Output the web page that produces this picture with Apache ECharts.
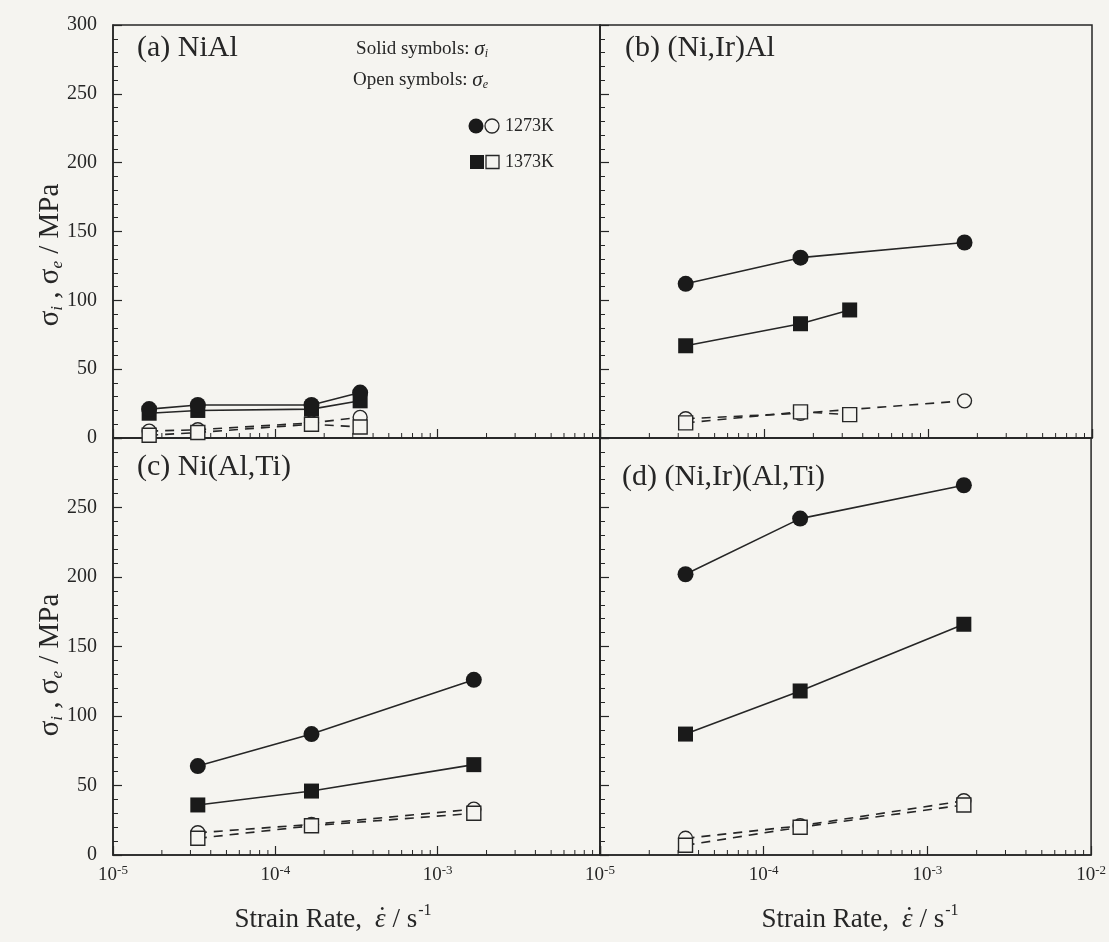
<!DOCTYPE html>
<html><head><meta charset="utf-8">
<script src="https://cdn.jsdelivr.net/npm/echarts@6/dist/echarts.min.js"></script>
<style>html,body{margin:0;padding:0;background:#f5f4f0;} #c{width:1109px;height:942px;}</style>
</head><body><div id="c"></div>
<script>
// ---- data (strain rate in s^-1, stress in MPa) ----
const ratesA = [1.67e-5, 3.33e-5, 1.67e-4, 3.33e-4];
const ratesMain = [3.33e-5, 1.67e-4, 1.67e-3];
const ratesB1373 = [3.33e-5, 1.67e-4, 3.33e-4];

const a1273Solid = [21, 24, 24, 33];
const a1373Solid = [18, 20, 21, 27];
const a1273Open  = [5, 6, 11, 15];
const a1373Open  = [2, 4, 10, 8];

const b1273Solid = [112, 131, 142];
const b1373Solid = [67, 83, 93];
const b1273Open  = [14, 18, 27];
const b1373Open  = [11, 19, 17];

const c1273Solid = [64, 87, 126];
const c1373Solid = [36, 46, 65];
const c1273Open  = [16, 22, 33];
const c1373Open  = [12, 21, 30];

const d1273Solid = [202, 242, 266];
const d1373Solid = [87, 118, 166];
const d1273Open  = [12, 21, 39];
const d1373Open  = [7, 20, 36];

const panelTitles = ['(a) NiAl', '(b) (Ni,Ir)Al', '(c) Ni(Al,Ti)', '(d) (Ni,Ir)(Al,Ti)'];
const yTickStep = 50;
const xDecades = [-5, -4, -3];
const minorMultipliers = [2, 3, 4, 5, 6, 7, 8, 9];

// ---- styling ----
const FONT = '"Liberation Serif","DejaVu Serif",serif';
const INK = '#262626';
const BG = '#f5f4f0';

const grids = [
  {left: 113, top: 25, width: 487, height: 413},
  {left: 600, top: 25, width: 492, height: 413},
  {left: 113, top: 438, width: 487, height: 417},
  {left: 600, top: 438, width: 492, height: 417}
];

const panels = [
  {c1: [ratesA, a1273Solid], s1: [ratesA, a1373Solid], oc: [ratesA, a1273Open], os: [ratesA, a1373Open]},
  {c1: [ratesMain, b1273Solid], s1: [ratesB1373, b1373Solid], oc: [ratesMain, b1273Open], os: [ratesB1373, b1373Open]},
  {c1: [ratesMain, c1273Solid], s1: [ratesMain, c1373Solid], oc: [ratesMain, c1273Open], os: [ratesMain, c1373Open]},
  {c1: [ratesMain, d1273Solid], s1: [ratesMain, d1373Solid], oc: [ratesMain, d1273Open], os: [ratesMain, d1373Open]}
];

const zip = (xs, ys) => xs.map((x, i) => [x, ys[i]]);
const minorVals = [];
xDecades.forEach(k => minorMultipliers.forEach(m => minorVals.push([m * Math.pow(10, k)])));

const xAxes = [], yAxes = [], series = [];
grids.forEach((g, gi) => {
  const bottomRow = gi >= 2, leftCol = gi % 2 === 0;
  xAxes.push({
    type: 'log', logBase: 10, gridIndex: gi, min: 1e-5, max: 1e-2, interval: 1,
    axisLine: {show: true, lineStyle: {color: INK, width: 1.5}},
    axisTick: {show: true, inside: true, length: 9, lineStyle: {color: INK, width: 1.2}},
    splitLine: {show: false},
    axisLabel: {
      show: bottomRow, margin: 9,
      formatter: v => {
        const e = Math.round(Math.log10(v));
        if (leftCol && e === -2) return '';
        return '{b|10}{s|' + e + '}';
      },
      rich: {
        b: {fontFamily: FONT, fontSize: 19, color: INK, lineHeight: 22},
        s: {fontFamily: FONT, fontSize: 13, color: INK, verticalAlign: 'top', lineHeight: 13}
      }
    }
  });
  yAxes.push({
    type: 'value', gridIndex: gi, min: 0, max: 300, interval: yTickStep,
    axisLine: {show: true, lineStyle: {color: INK, width: 1.5}},
    axisTick: {show: true, inside: true, length: 9, lineStyle: {color: INK, width: 1.2}},
    minorTick: {show: true, splitNumber: 5, length: 5, lineStyle: {color: INK, width: 1}},
    splitLine: {show: false},
    axisLabel: {
      show: leftCol, margin: 16, fontFamily: FONT, fontSize: 20, color: INK,
      formatter: v => (bottomRow && v === 300) ? '' : String(v)
    }
  });
  const p = panels[gi];
  const solid = (d, sym, size, z) => ({
    type: 'line', xAxisIndex: gi, yAxisIndex: gi, data: zip(d[0], d[1]),
    symbol: sym, symbolSize: size, z: z, silent: true, animation: false,
    itemStyle: {color: '#1a1a1a', borderColor: '#1a1a1a', borderWidth: 0},
    lineStyle: {color: INK, width: 1.6}
  });
  const open = (d, sym, size, z) => ({
    type: 'line', xAxisIndex: gi, yAxisIndex: gi, data: zip(d[0], d[1]),
    symbol: sym, symbolSize: size, z: z, silent: true, animation: false,
    itemStyle: {color: BG, borderColor: INK, borderWidth: 1.4},
    lineStyle: {color: INK, width: 1.6, type: [9, 7]}
  });
  series.push(open(p.oc, 'circle', 14, 2));
  series.push(open(p.os, 'rect', 14, 3));
  series.push(solid(p.s1, 'rect', 15, 4));
  series.push(solid(p.c1, 'circle', 16, 5));
  series.push({
    type: 'custom', xAxisIndex: gi, yAxisIndex: gi, data: minorVals, silent: true, clip: false, z: 1, animation: false,
    renderItem: (params, api) => {
      const pt = api.coord([api.value(0), 0]);
      return {type: 'line', shape: {x1: pt[0], y1: pt[1], x2: pt[0], y2: pt[1] - 5}, style: {stroke: INK, lineWidth: 1}};
    }
  });
});

const titlePos = [[137, 48], [625, 48], [137, 467], [622, 477]];
const graphic = [];
panelTitles.forEach((t, i) => graphic.push({
  type: 'text', x: titlePos[i][0], y: titlePos[i][1], silent: true,
  style: {text: t, fontFamily: FONT, fontSize: 30, fill: INK, align: 'left', verticalAlign: 'middle'}
}));

// y axis titles
[255, 665].forEach(cy => graphic.push({
  type: 'text', x: 50, y: cy, rotation: Math.PI / 2, silent: true,
  style: {
    text: '{g|σ}{i|i}{g| , σ}{i|e}{g| / MPa}', align: 'center', verticalAlign: 'middle',
    rich: {
      g: {fontFamily: FONT, fontSize: 29, fill: INK, lineHeight: 32},
      i: {fontFamily: FONT, fontSize: 17, fontStyle: 'italic', fill: INK, verticalAlign: 'bottom', lineHeight: 16}
    }
  }
}));

// x axis titles, built from measured pieces so the dot sits over the epsilon
const mctx = document.createElement('canvas').getContext('2d');
const measure = (t, f) => { mctx.font = f; return mctx.measureText(t).width; };
const XT = 27;
const fN = XT + 'px "Liberation Serif"', fI = 'italic ' + XT + 'px "Liberation Serif"', fS = '16px "Liberation Serif"';
const pieces = [
  {t: 'Strain Rate,', f: fN, italic: false, size: XT, gapAfter: 13},
  {t: '\u03B5', f: fI, italic: true, size: XT, gapAfter: 0, dot: true},
  {t: ' / s', f: fN, italic: false, size: XT, gapAfter: 1},
  {t: '-1', f: fS, italic: false, size: 16, gapAfter: 0, sup: true}
];
const totalW = pieces.reduce((s, p) => s + measure(p.t, p.f) + p.gapAfter, 0);
[333, 860].forEach(cx => {
  let x = cx - totalW / 2;
  const y = 920;
  pieces.forEach(p => {
    const w = measure(p.t, p.f);
    graphic.push({type: 'text', x: x, y: p.sup ? y - 9 : y, silent: true,
      style: {text: p.t, fontFamily: FONT, fontSize: p.size, fontStyle: p.italic ? 'italic' : 'normal', fill: INK, align: 'left', verticalAlign: 'middle'}});
    if (p.dot) {
      graphic.push({type: 'text', x: x + w / 2 + 2, y: y - 2, silent: true,
        style: {text: '\u02D9', fontFamily: FONT, fontSize: XT, fill: INK, align: 'center', verticalAlign: 'middle'}});
    }
    x += w + p.gapAfter;
  });
});

// legend block in panel (a)
const legRich = {t: {fontFamily: FONT, fontSize: 19, fill: INK, lineHeight: 22},
  s: {fontFamily: FONT, fontSize: 21, fontStyle: 'italic', fill: INK, lineHeight: 22},
  b: {fontFamily: FONT, fontSize: 12, fontStyle: 'italic', fill: INK, verticalAlign: 'bottom', lineHeight: 12}};
graphic.push({type: 'text', x: 488, y: 49, silent: true,
  style: {text: '{t|Solid symbols: }{s|σ}{b|i}', align: 'right', verticalAlign: 'middle', rich: legRich}});
graphic.push({type: 'text', x: 488, y: 80, silent: true,
  style: {text: '{t|Open symbols: }{s|σ}{b|e}', align: 'right', verticalAlign: 'middle', rich: legRich}});
graphic.push({type: 'circle', silent: true, shape: {cx: 476, cy: 126, r: 7.5}, style: {fill: '#1a1a1a'}});
graphic.push({type: 'circle', silent: true, shape: {cx: 492, cy: 126, r: 7}, style: {fill: BG, stroke: INK, lineWidth: 1.3}});
graphic.push({type: 'text', x: 505, y: 126, silent: true, style: {text: '1273K', fontFamily: FONT, fontSize: 18, fill: INK, verticalAlign: 'middle'}});
graphic.push({type: 'rect', silent: true, shape: {x: 470, y: 155, width: 14, height: 14}, style: {fill: '#1a1a1a'}});
graphic.push({type: 'rect', silent: true, shape: {x: 486, y: 155.5, width: 13, height: 13}, style: {fill: BG, stroke: INK, lineWidth: 1.3}});
graphic.push({type: 'text', x: 505, y: 162, silent: true, style: {text: '1373K', fontFamily: FONT, fontSize: 18, fill: INK, verticalAlign: 'middle'}});

const chart = echarts.init(document.getElementById('c'), null, {renderer: 'canvas'});
chart.setOption({
  backgroundColor: BG,
  animation: false,
  grid: grids.map(g => Object.assign({show: true, borderColor: INK, borderWidth: 1.5, backgroundColor: 'transparent', containLabel: false}, g)),
  xAxis: xAxes,
  yAxis: yAxes,
  series: series,
  graphic: graphic
});
</script>
</body></html>
